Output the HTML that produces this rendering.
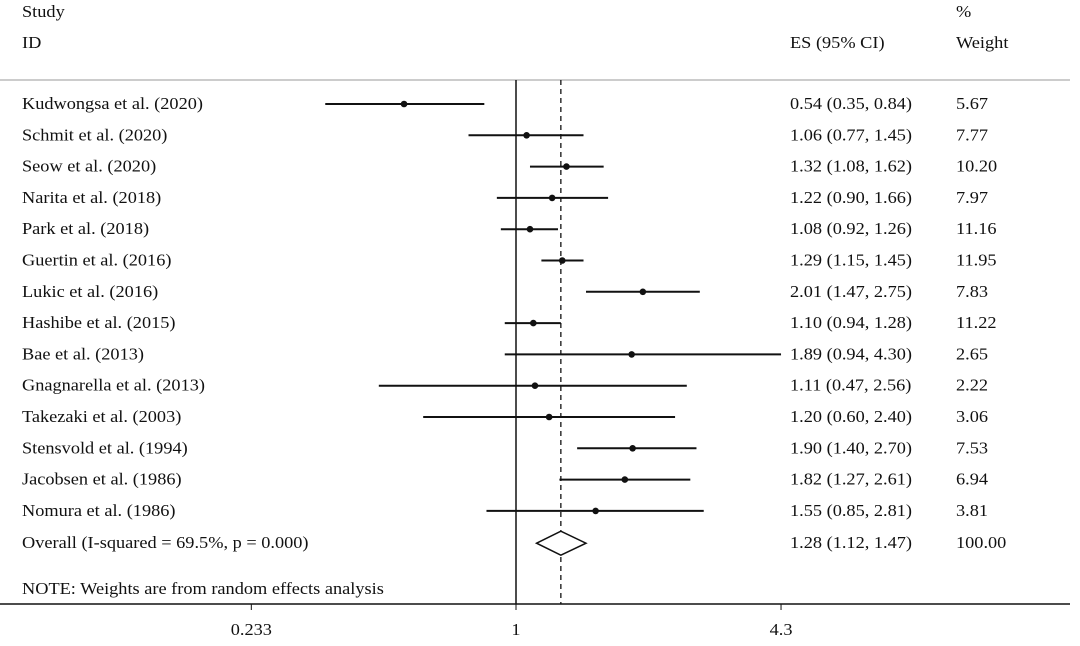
<!DOCTYPE html>
<html><head><meta charset="utf-8"><style>
body{margin:0;background:#fff;}
svg{display:block;font-family:"Liberation Serif",serif;}
text{font-size:16.5px;fill:#111;}
</style></head><body>
<svg id="chart" width="1080" height="646" viewBox="0 0 1080 646">
<text transform="translate(22 17) scale(1.11 1)">Study</text>
<text transform="translate(22 48) scale(1.11 1)">ID</text>
<text transform="translate(790 48) scale(1.11 1)">ES (95% CI)</text>
<text transform="translate(956 17) scale(1.11 1)">%</text>
<text transform="translate(956 48) scale(1.11 1)">Weight</text>
<line x1="0" y1="80" x2="1070" y2="80" stroke="#999" stroke-width="1"/>
<line x1="0" y1="604" x2="1070" y2="604" stroke="#111" stroke-width="1.5"/>
<g id="marks"></g>
<text transform="translate(22 594) scale(1.11 1)">NOTE: Weights are from random effects analysis</text>
</svg>
<script>
const studies=["Kudwongsa et al. (2020)","Schmit et al. (2020)","Seow et al. (2020)","Narita et al. (2018)","Park et al. (2018)","Guertin et al. (2016)","Lukic et al. (2016)","Hashibe et al. (2015)","Bae et al. (2013)","Gnagnarella et al. (2013)","Takezaki et al. (2003)","Stensvold et al. (1994)","Jacobsen et al. (1986)","Nomura et al. (1986)"];
const es=[0.54,1.06,1.32,1.22,1.08,1.29,2.01,1.10,1.89,1.11,1.20,1.90,1.82,1.55];
const lo=[0.35,0.77,1.08,0.90,0.92,1.15,1.47,0.94,0.94,0.47,0.60,1.40,1.27,0.85];
const hi=[0.84,1.45,1.62,1.66,1.26,1.45,2.75,1.28,4.30,2.56,2.40,2.70,2.61,2.81];
const weights=["5.67","7.77","10.20","7.97","11.16","11.95","7.83","11.22","2.65","2.22","3.06","7.53","6.94","3.81"];
const overall=[1.28,1.12,1.47];
const overallLabel="Overall  (I-squared = 69.5%, p = 0.000)";
const ticks=[0.233,1,4.3];
const tickLabels=["0.233","1","4.3"];
const NS="http://www.w3.org/2000/svg";
const X=v=>516+181.7*Math.log(v);
const Y=i=>104+31.3*i;
const g=document.getElementById('marks');
function mk(t,a){const e=document.createElementNS(NS,t);for(const k in a)e.setAttribute(k,a[k]);g.appendChild(e);return e;}
function tx(x,y,s,anchor){const e=mk('text',{transform:`translate(${x} ${y}) scale(1.11 1)`});if(anchor)e.setAttribute('text-anchor',anchor);e.textContent=s;return e;}
function fmt(v){return v.toFixed(2);}
const yOv=Y(studies.length)+1;
let e;
e=mk('line',{x1:516,y1:80,x2:516,y2:604,stroke:'#111','stroke-width':1.5});


e=mk('line',{x1:X(overall[0]),y1:80,x2:X(overall[0]),y2:604,stroke:'#111','stroke-width':1.3,'stroke-dasharray':'5,4'});


studies.forEach((s,i)=>{
 const y=Y(i);
 e=tx(22,y+5,s);
 
 
 e=mk('line',{x1:X(lo[i]),y1:y,x2:X(hi[i]),y2:y,stroke:'#111','stroke-width':2});
 
 
 e=mk('circle',{cx:X(es[i]),cy:y,r:3.3,fill:'#111'});
 
 
 e=tx(790,y+5,fmt(es[i])+" ("+fmt(lo[i])+", "+fmt(hi[i])+")");
 
 
 e=tx(956,y+5,weights[i]);
 
 
});
e=tx(22,yOv+5,overallLabel);


e=mk('polygon',{points:`${X(overall[1])},${yOv} ${X(overall[0])},${yOv-12} ${X(overall[2])},${yOv} ${X(overall[0])},${yOv+12}`,fill:'#fff',stroke:'#111','stroke-width':1.5});


e=tx(790,yOv+5,fmt(overall[0])+" ("+fmt(overall[1])+", "+fmt(overall[2])+")");


e=tx(956,yOv+5,"100.00");


ticks.forEach((t,i)=>{
 e=mk('line',{x1:X(t),y1:604,x2:X(t),y2:610,stroke:'#111','stroke-width':1});
 
 
 e=tx(X(t),635,tickLabels[i],'middle');
 
 
});
</script>
</body></html>
